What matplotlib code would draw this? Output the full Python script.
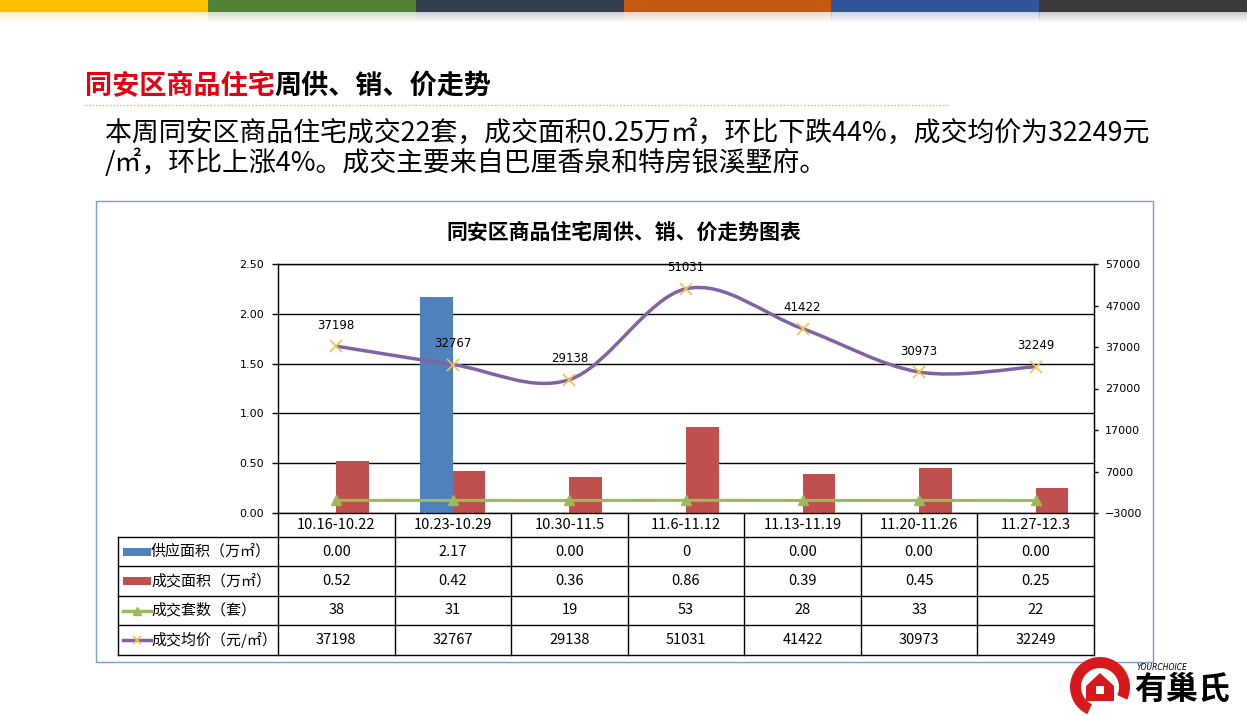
import matplotlib
matplotlib.use("Agg")
import matplotlib.pyplot as plt
import matplotlib.transforms as mtransforms
from matplotlib.path import Path
from matplotlib.patches import PathPatch, Rectangle, Wedge, Polygon
import numpy as np

plt.rcParams['font.family'] = ['Noto Sans CJK SC', 'DejaVu Sans']

W, H = 1247, 718

# ---------------- data ----------------
categories = ['10.16-10.22', '10.23-10.29', '10.30-11.5', '11.6-11.12',
              '11.13-11.19', '11.20-11.26', '11.27-12.3']
supply_area = [0.00, 2.17, 0.00, 0.0, 0.00, 0.00, 0.00]
supply_labels = ['0.00', '2.17', '0.00', '0', '0.00', '0.00', '0.00']
deal_area = [0.52, 0.42, 0.36, 0.86, 0.39, 0.45, 0.25]
deal_units = [38, 31, 19, 53, 28, 33, 22]
avg_price = [37198, 32767, 29138, 51031, 41422, 30973, 32249]
series_names = ['供应面积（万㎡）', '成交面积（万㎡）', '成交套数（套）', '成交均价（元/㎡）']
left_ticks = [0.0, 0.5, 1.0, 1.5, 2.0, 2.5]
right_ticks = [-3000, 7000, 17000, 27000, 37000, 47000, 57000]

slide_title_red = '同安区商品住宅'
slide_title_black = '周供、销、价走势'
body_lines = ['本周同安区商品住宅成交22套，成交面积0.25万㎡，环比下跌44%，成交均价为32249元',
              '/㎡，环比上涨4%。成交主要来自巴厘香泉和特房银溪墅府。']
chart_title = '同安区商品住宅周供、销、价走势图表'

C_BLUE = '#4F81BD'
C_RED = '#C0504D'
C_GREEN = '#9BBB59'
C_PURPLE = '#8064A2'
C_MARK = '#F2C14E'

fig = plt.figure(figsize=(W / 100, H / 100), dpi=100)
ov = fig.add_axes([0, 0, 1, 1])
ov.set_xlim(0, W)
ov.set_ylim(H, 0)
ov.axis('off')

# top colour strip
strip_colors = ['#FFC000', '#548235', '#333F50', '#C55A11', '#2F5597', '#3A3A3A']
sw = W / len(strip_colors)
for k, c in enumerate(strip_colors):
    ov.add_patch(Rectangle((k * sw, 0), sw + 0.5, 12, color=c, lw=0))
    for j in range(10):
        ov.add_patch(Rectangle((k * sw, 12 + j), sw + 0.5, 1, color=c, lw=0,
                               alpha=0.25 * (1 - j / 10)))

# slide title
t_red = ov.text(85, 86, slide_title_red, color='#E60012', fontsize=19.5,
                fontweight='bold', ha='left', va='center')
ov.annotate(slide_title_black, xy=(1, 0), xycoords=t_red, color='black',
            fontsize=19.5, fontweight='bold', ha='left', va='bottom')
ov.plot([85, 948], [105, 105], color='#F0C000', ls=(0, (1, 1.5)), lw=1)

ov.text(105, 133, body_lines[0], fontsize=19.4, ha='left', va='center')
ov.text(105, 163, body_lines[1], fontsize=19.4, ha='left', va='center')

# chart frame
ov.add_patch(Rectangle((96, 201), 1057, 461, fill=False, ec='#7F9DC8', lw=1))
ov.text(624, 232, chart_title, fontsize=15, fontweight='bold', ha='center', va='center')

# ---------------- main plot ----------------
ax = fig.add_axes([278 / W, 1 - 513 / H, 816 / W, 249 / H])
n = len(categories)
x = np.arange(n)
bw = 0.28
ax.bar(x - bw / 2, supply_area, width=bw, color=C_BLUE, zorder=2)
ax.bar(x + bw / 2, deal_area, width=bw, color=C_RED, zorder=2)
ax.set_xlim(-0.5, n - 0.5)
ax.set_ylim(0, 2.5)
ax.set_yticks(left_ticks)
ax.set_yticklabels(['%.2f' % v for v in left_ticks], family='DejaVu Sans', fontsize=8)
ax.set_xticks([])
ax.grid(axis='y', color='black', lw=1)
ax.set_axisbelow(True)
ax.tick_params(axis='y', direction='out', length=4, width=1, pad=6)
for s in ax.spines.values():
    s.set_color('black')
    s.set_linewidth(1)

ax2 = ax.twinx()
ax2.set_ylim(-3000, 57000)
ax2.set_yticks(right_ticks)
ax2.set_yticklabels([('\u2212%d' % -v) if v < 0 else str(v) for v in right_ticks],
                    family='DejaVu Sans', fontsize=8)
ax2.tick_params(axis='y', direction='out', length=3, width=1, pad=5)
for s in ax2.spines.values():
    s.set_visible(False)
ax2.spines['right'].set_visible(True)
ax2.spines['right'].set_color('black')

# green line: units (straight)
ax2.plot(x, deal_units, color=C_GREEN, lw=2.2, marker='^', ms=7, mfc=C_GREEN,
         mec=C_GREEN, zorder=3)

# purple smoothed price line (Excel-style cubic Bezier through points)
pts = np.column_stack([x, avg_price]).astype(float)
verts = [tuple(pts[0])]
codes = [Path.MOVETO]
for i in range(n - 1):
    p0 = pts[i - 1] if i > 0 else pts[i]
    p1 = pts[i]
    p2 = pts[i + 1]
    p3 = pts[i + 2] if i + 2 < n else pts[i + 1]
    c1 = p1 + (p2 - p0) / 6.0
    c2 = p2 - (p3 - p1) / 6.0
    verts += [tuple(c1), tuple(c2), tuple(p2)]
    codes += [Path.CURVE4] * 3
ax2.add_patch(PathPatch(Path(verts, codes), fill=False, ec=C_PURPLE, lw=2.5, zorder=3))
ax2.plot(x, avg_price, ls='none', marker='x', ms=8, mew=1.2, color=C_MARK, zorder=4)
for xi, v in zip(x, avg_price):
    ax2.annotate(str(v), (xi, v), xytext=(0, 15), textcoords='offset points',
                 ha='center', va='center', fontsize=8.5, family='DejaVu Sans', zorder=5)

# ---------------- data table ----------------
blend = mtransforms.blended_transform_factory(ax.transData, ov.transData)
row_edges = [513, 537, 566, 596, 625, 655]
row_c = [(row_edges[i] + row_edges[i + 1]) / 2 for i in range(len(row_edges) - 1)]
for b in np.arange(n + 1) - 0.5:
    ov.plot([b, b], [513, 655], color='black', lw=1, transform=blend)
for y in row_edges[1:]:
    ov.plot([118, 1094], [y, y], color='black', lw=1)
ov.plot([118, 118], [537, 655], color='black', lw=1)

for i, c in enumerate(categories):
    ov.text(i, row_c[0], c, ha='center', va='center', fontsize=10.5, transform=blend)
table_rows = [supply_labels,
              ['%.2f' % v for v in deal_area],
              [str(v) for v in deal_units],
              [str(v) for v in avg_price]]
for r, vals in enumerate(table_rows):
    yc = row_c[r + 1]
    for i, v in enumerate(vals):
        ov.text(i, yc, v, ha='center', va='center', fontsize=10.5, transform=blend)
    ov.text(151, yc, series_names[r], ha='left', va='center', fontsize=10.8)

# legend keys in table
ov.add_patch(Rectangle((123, row_c[1] - 4), 28, 8, color=C_BLUE, lw=0))
ov.add_patch(Rectangle((123, row_c[2] - 4), 28, 8, color=C_RED, lw=0))
ov.plot([123, 151], [row_c[3], row_c[3]], color=C_GREEN, lw=2.5)
ov.plot([137], [row_c[3]], marker='^', ms=6, color=C_GREEN)
ov.plot([123, 151], [row_c[4], row_c[4]], color=C_PURPLE, lw=2.5)
ov.plot([137], [row_c[4]], marker='x', ms=6, mew=1.2, color=C_MARK)

# ---------------- logo ----------------
ov.add_patch(Wedge((1100, 687), 30, 115, 25, width=11, color='#D7191C', lw=0))
ov.add_patch(Polygon([[1086, 701], [1086, 686], [1100, 673], [1114, 686], [1114, 701]],
                     closed=True, color='#D7191C', lw=0))
ov.add_patch(Rectangle((1096, 686), 8, 8, color='white', lw=0))
ov.text(1137, 668, 'YOURCHOICE', fontsize=5.5, style='italic', ha='left', va='center',
        family='DejaVu Sans')
ov.text(1134, 690, '有巢氏', fontsize=23, fontweight='bold', ha='left', va='center')

fig.savefig('out.png', dpi=100)
